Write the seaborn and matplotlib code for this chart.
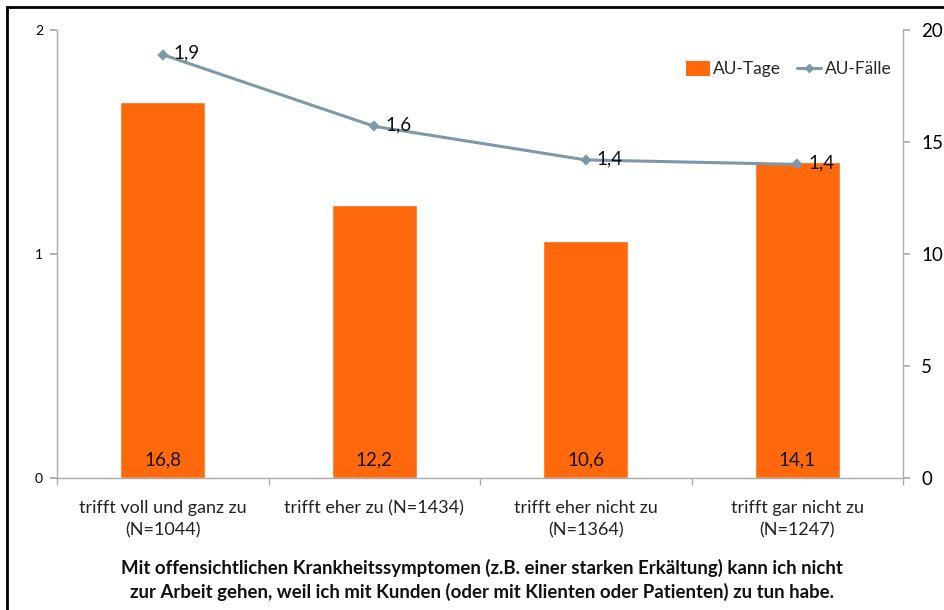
import matplotlib
matplotlib.use("Agg")
import matplotlib.pyplot as plt
from matplotlib.patches import Patch, Rectangle
from matplotlib.lines import Line2D
import seaborn as sns
import pandas as pd

# Survey answers and results
kategorien = ["trifft voll und ganz zu\n(N=1044)", "trifft eher zu (N=1434)",
              "trifft eher nicht zu\n(N=1364)", "trifft gar nicht zu\n(N=1247)"]
au_tage = [16.8, 12.2, 10.6, 14.1]
au_faelle = [1.89, 1.57, 1.42, 1.40]
links_ticks = [0, 1, 2]
rechts_ticks = [0, 5, 10, 15, 20]
titel = ("Mit offensichtlichen Krankheitssymptomen (z.B. einer starken Erkältung) kann ich nicht\n"
         "zur Arbeit gehen, weil ich mit Kunden (oder mit Klienten oder Patienten) zu tun habe.")

df = pd.DataFrame({"Kategorie": kategorien, "AU-Tage": au_tage, "AU-Fälle": au_faelle})

ORANGE = "#FF690B"
LINIE = "#7D98A8"
GRAU = "#ABABAB"

sns.set_theme(style="white")
plt.rcParams["font.family"] = ["Lato", "DejaVu Sans"]

fig = plt.figure(figsize=(9.44, 6.10), dpi=100)
fig.subplots_adjust(left=57/944, right=903/944, top=1-30/610, bottom=1-478/610)
ax = fig.add_subplot(111)

# Bars (AU-Tage) on the right-hand scale
sns.barplot(data=df, x="Kategorie", y="AU-Tage", color=ORANGE, width=0.4,
            saturation=1, ax=ax, zorder=2)
ax.set_xlabel("")
ax.set_ylabel("")

# Line (AU-Fälle) on the left-hand scale
ax2 = ax.twinx()
sns.pointplot(data=df, x="Kategorie", y="AU-Fälle", color=LINIE, markers="D",
              markersize=4, linewidth=2.2, ax=ax2)

ax.set_ylim(0, 20)
ax.set_xlim(-0.5, 3.5)
ax.yaxis.tick_right()
ax.set_yticks(rechts_ticks)
ax.set_yticks([10, 20], minor=True)
ax.yaxis.grid(True, which="minor", color=GRAU, linewidth=1)
ax.yaxis.grid(False, which="major")
ax.set_axisbelow(True)
ax.tick_params(axis="y", which="major", left=False, right=True, labelleft=False,
               labelright=True, length=5, color=GRAU, labelsize=13.5, pad=8,
               labelcolor="black")
ax.tick_params(axis="y", which="minor", length=0)

# x axis: labels centered, tick marks between categories
ax.set_xticks(range(len(kategorien)))
ax.set_xticklabels(kategorien, fontsize=13, linespacing=1.45)
ax.set_xticks([i - 0.5 for i in range(len(kategorien) + 1)], minor=True)
ax.tick_params(axis="x", which="major", length=0, pad=16, labelcolor="#222222")
ax.tick_params(axis="x", which="minor", bottom=True, length=5, color=GRAU)

ax.spines["top"].set_visible(False)
for s in ["left", "right", "bottom"]:
    ax.spines[s].set_color(GRAU)
    ax.spines[s].set_linewidth(1)

# Value labels at the foot of each bar
for patch, v in zip(ax.patches, au_tage):
    ax.text(patch.get_x() + patch.get_width() / 2, 0.45, f"{v:.1f}".replace(".", ","),
            ha="center", va="bottom", fontsize=13.5, color="#111111", zorder=5)

ax2.set_ylim(0, 2)
ax2.set_xlim(-0.5, 3.5)
ax2.set_yticks(links_ticks)
ax2.tick_params(axis="y", left=True, right=False, labelleft=True, labelright=False,
                length=5, color=GRAU, labelsize=10, pad=5, labelcolor="black")
ax2.set_ylabel("")
ax2.set_xlabel("")
for s in ax2.spines.values():
    s.set_visible(False)

for i, v in enumerate(au_faelle):
    ax2.annotate(f"{v:.1f}".replace(".", ","), (i, v), xytext=(8, 1),
                 textcoords="offset points", ha="left", va="center",
                 fontsize=13.5, color="#111111")

# Legend
handles = [Patch(facecolor=ORANGE, edgecolor="none", label="AU-Tage"),
           Line2D([], [], color=LINIE, lw=2.2, marker="D", markersize=4, label="AU-Fälle")]
ax2.legend(handles=handles, loc="upper right", bbox_to_anchor=(1.005, 0.965), ncol=2,
           frameon=False, fontsize=12.5, handlelength=1.4, handletextpad=0.2,
           columnspacing=0.9, handleheight=0.9)

# Question text below the chart
fig.text(482/944, 1 - 580/610, titel, ha="center", va="center", fontsize=13.4,
         fontweight="bold", color="#111111", linespacing=1.4)

# Outer frame
fig.patches.append(Rectangle((7/944, -0.05), 1.0, 1 - 7/610 + 0.05,
                             transform=fig.transFigure, fill=False,
                             edgecolor="black", linewidth=2))

fig.savefig("out.png", dpi=100)
